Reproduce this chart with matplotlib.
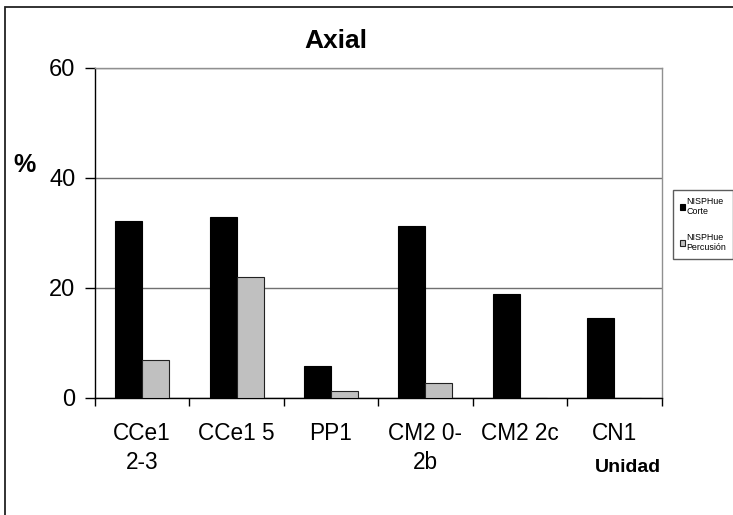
import matplotlib
matplotlib.use("Agg")
import matplotlib.pyplot as plt
from matplotlib.patches import Rectangle
import numpy as np

categories = ["CCe1\n2-3", "CCe1 5", "PP1", "CM2 0-\n2b", "CM2 2c", "CN1"]
corte = [32.1, 32.9, 5.8, 31.2, 18.8, 14.4]
percusion = [6.8, 21.9, 1.2, 2.7, 0.0, 0.0]
series_labels = ["NISPHue\nCorte", "NISPHue\nPercusión"]
yticks = [0, 20, 40, 60]

plt.rcParams["font.family"] = ["Liberation Sans", "DejaVu Sans"]

W, H = 733, 515
fig = plt.figure(figsize=(W / 100, H / 100), dpi=100)
fig.patch.set_facecolor("white")

# outer chart frame (runs off the right and bottom edges)
fig.patches.append(Rectangle((5 / W, -0.05), 1.1, 1 - 7 / H + 0.05,
                             transform=fig.transFigure, fill=False,
                             edgecolor="#222222", linewidth=1.3))

left, right = 95 / W, 661.5 / W
bottom, top = 1 - 397.5 / H, 1 - 68 / H
ax = fig.add_axes([left, bottom, right - left, top - bottom])

x = np.arange(len(categories))
w = 0.286
ax.bar(x - w / 2, corte, w, color="black", edgecolor="black",
       linewidth=0.8, label=series_labels[0], zorder=3)
ax.bar(x + w / 2, percusion, w, color="#C0C0C0", edgecolor="#222222",
       linewidth=0.8, label=series_labels[1], zorder=3)

ax.set_xlim(-0.5, len(categories) - 0.5)
ax.set_ylim(0, 60)
ax.set_yticks(yticks)
ax.yaxis.grid(True, color="#707070", linewidth=1.0, zorder=0)

ax.set_xticks(x)
ax.set_xticklabels(categories, fontsize=16.3, linespacing=1.3)
ax.set_xticks(np.arange(-0.5, len(categories), 1.0), minor=True)
ax.tick_params(axis="x", which="major", length=0, pad=18)
ax.tick_params(axis="x", which="minor", length=6, width=1.0, direction="out")
ax.tick_params(axis="y", length=7, width=1.0, direction="out", pad=7,
               labelsize=17)

for s in ["left", "bottom"]:
    ax.spines[s].set_color("black")
    ax.spines[s].set_linewidth(1.0)
for s in ["right", "top"]:
    ax.spines[s].set_color("#909090")
    ax.spines[s].set_linewidth(1.0)

fig.text(336 / W, 1 - 41 / H, "Axial", fontsize=19, fontweight="bold",
         ha="center", va="center")
fig.text(24 / W, 1 - 165 / H, "%", fontsize=18, fontweight="bold",
         ha="center", va="center")
fig.text(661 / W, 1 - 467 / H, "Unidad", fontsize=14, fontweight="bold",
         ha="right", va="center")

leg = ax.legend(loc="upper left", bbox_to_anchor=(673 / W, 1 - 190 / H),
                bbox_transform=fig.transFigure, fontsize=6.4,
                handlelength=0.65, handleheight=0.65, handletextpad=0.12,
                labelspacing=1.9, borderpad=0.75, borderaxespad=0,
                frameon=True, fancybox=False)
leg.get_frame().set_edgecolor("#333333")
leg.get_frame().set_linewidth(1.0)

fig.savefig("out.png", dpi=100)
